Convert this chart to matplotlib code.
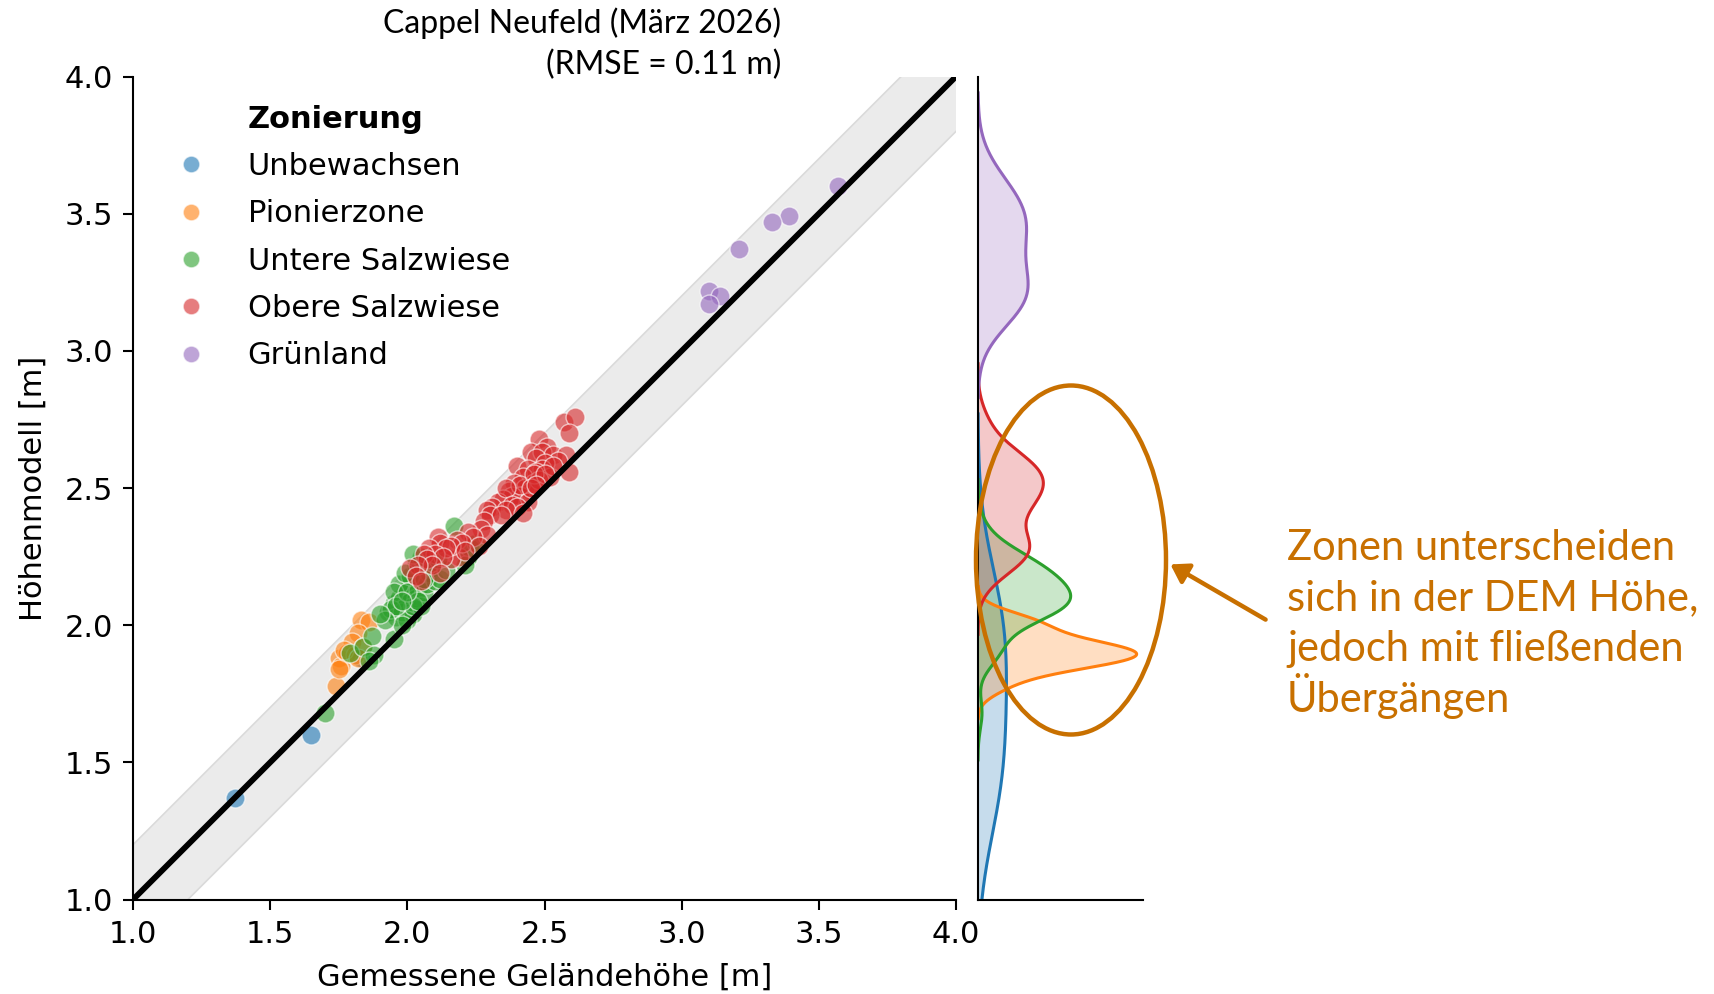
import numpy as np
import matplotlib
matplotlib.use("Agg")
import matplotlib.pyplot as plt
from matplotlib.patches import Ellipse, FancyArrowPatch
from matplotlib.lines import Line2D

# ---------------- data ----------------
zones = ["Unbewachsen", "Pionierzone", "Untere Salzwiese", "Obere Salzwiese", "Grünland"]
colors = ["#1f77b4", "#ff7f0e", "#2ca02c", "#d62728", "#9467bd"]

unbew_x = [1.37, 1.65, 1.83, 2.02]
unbew_y = [1.37, 1.60, 1.88, 2.07]

pionier_x = [1.83, 1.86, 1.82, 1.80, 1.75, 1.76, 1.74, 1.78, 1.81, 1.84, 1.75, 1.77, 1.82]
pionier_y = [2.02, 2.01, 1.97, 1.94, 1.88, 1.85, 1.78, 1.90, 1.89, 1.92, 1.84, 1.91, 1.88]

untere_x = [1.70, 1.79, 1.84, 1.87, 1.88, 1.86, 1.95, 1.93, 1.95, 1.97, 1.96, 1.98, 1.99,
            2.00, 2.01, 1.97, 1.95, 1.94, 2.02, 2.03, 2.04, 2.00, 1.98, 2.05, 2.06, 2.07,
            2.01, 2.03, 2.05, 2.08, 2.09, 2.10, 2.12, 2.14, 2.11, 2.17, 2.22, 2.23, 2.25,
            2.21, 1.99, 2.02, 1.96, 2.04, 2.00, 1.98, 2.06, 2.02, 1.92, 1.90]
untere_y = [1.68, 1.90, 1.92, 1.96, 1.89, 1.87, 1.95, 2.05, 2.08, 2.10, 2.03, 2.05, 2.12,
            2.08, 2.15, 2.15, 2.12, 2.06, 2.04, 2.10, 2.13, 2.02, 2.00, 2.07, 2.12, 2.15,
            2.18, 2.22, 2.25, 2.19, 2.21, 2.16, 2.17, 2.20, 2.24, 2.36, 2.25, 2.28, 2.30,
            2.22, 2.19, 2.07, 2.07, 2.09, 2.12, 2.09, 2.17, 2.26, 2.02, 2.04]

obere_x = [2.57, 2.61, 2.59, 2.48, 2.51, 2.45, 2.49, 2.53, 2.58, 2.47, 2.55,
           2.59, 2.50, 2.40, 2.44, 2.49, 2.47, 2.42, 2.52, 2.46, 2.39, 2.53, 2.43, 2.37,
           2.45, 2.41, 2.38, 2.35, 2.44, 2.33, 2.48, 2.41, 2.36, 2.46, 2.50,
           2.38, 2.40, 2.31, 2.36, 2.29, 2.42, 2.30, 2.34, 2.28, 2.45, 2.19, 2.47, 2.16,
           2.27, 2.22, 2.29, 2.24, 2.11, 2.18, 2.20, 2.12, 2.16, 2.26, 2.14, 2.08, 2.21,
           2.10, 2.06, 2.13, 2.07, 2.09, 2.04, 2.01,
           2.12, 2.03, 2.05]
obere_y = [2.74, 2.76, 2.70, 2.68, 2.65, 2.63, 2.63, 2.62, 2.62, 2.61, 2.60,
           2.56, 2.59, 2.58, 2.57, 2.57, 2.56, 2.54, 2.54, 2.52, 2.52, 2.58, 2.50, 2.49,
           2.49, 2.47, 2.47, 2.46, 2.45, 2.45, 2.53, 2.51, 2.50, 2.55, 2.55,
           2.44, 2.43, 2.43, 2.42, 2.42, 2.41, 2.40, 2.40, 2.38, 2.50, 2.25, 2.51, 2.24,
           2.35, 2.34, 2.33, 2.32, 2.32, 2.31, 2.30, 2.30, 2.29, 2.29, 2.28, 2.28, 2.27,
           2.26, 2.26, 2.25, 2.24, 2.22, 2.22, 2.21,
           2.19, 2.18, 2.16]

gruen_x = [3.57, 3.39, 3.33, 3.21, 3.10, 3.14, 3.10]
gruen_y = [3.60, 3.49, 3.47, 3.37, 3.22, 3.20, 3.17]

xs = [unbew_x, pionier_x, untere_x, obere_x, gruen_x]
ys = [unbew_y, pionier_y, untere_y, obere_y, gruen_y]

title_lines = ["Cappel Neufeld (März 2026)", "(RMSE = 0.11 m)"]
band_halfwidth = 0.2
ticks = [1.0, 1.5, 2.0, 2.5, 3.0, 3.5, 4.0]
annot_lines = ["Zonen unterscheiden", "sich in der DEM Höhe,",
               "jedoch mit fließenden", "Übergängen"]
accent = "#c87000"

# ---------------- figure ----------------
W, H = 1714, 994
fig = plt.figure(figsize=(W / 100, H / 100), dpi=100)
plt.rcParams["font.family"] = ["DejaVu Sans"]

def fx(px):
    return px / W

def fy(py):
    return 1 - py / H

ax = fig.add_axes([fx(133), fy(899.6), fx(956) - fx(133), fy(76.5) - fy(899.6)])
axm = fig.add_axes([fx(978), fy(899.6), fx(1143) - fx(978), fy(76.5) - fy(899.6)], sharey=ax)

# band and 1:1 line
line = np.array([0.5, 4.5])
ax.fill_between(line, line - band_halfwidth, line + band_halfwidth,
                facecolor="#ebebeb", edgecolor="#dadada", linewidth=1.2, zorder=0)
ax.plot(line, line, color="black", lw=4.2, zorder=3)

for x, y, c, z in zip(xs, ys, colors, zones):
    ax.scatter(x, y, s=185, color=c, alpha=0.6, edgecolor="white", linewidth=1.0,
               zorder=2, label=z)

ax.set_xlim(1.0, 4.0)
ax.set_ylim(1.0, 4.0)
ax.set_xticks(ticks)
ax.set_yticks(ticks)
ax.tick_params(labelsize=22, length=7.5, width=1.5, pad=7)
for s in ["top", "right"]:
    ax.spines[s].set_visible(False)
for s in ["left", "bottom"]:
    ax.spines[s].set_linewidth(1.5)
ax.set_xlabel("Gemessene Geländehöhe [m]", fontsize=22, labelpad=10)
ax.set_ylabel("Höhenmodell [m]", fontsize=22, labelpad=12)

handles = [Line2D([], [], marker="o", ls="", color=c, alpha=0.6, markersize=12,
                  markeredgecolor="white") for c in colors]
leg = ax.legend(handles, zones, title="Zonierung", loc="upper left",
                bbox_to_anchor=(0.0, 0.999), frameon=False, fontsize=22,
                title_fontproperties={"weight": "bold", "size": 22},
                handletextpad=0.85, labelspacing=0.6)

# marginal KDEs
curves = []
for y, c in zip(ys, colors):
    arr = np.asarray(y, dtype=float)
    n = arr.size
    bw = np.std(arr, ddof=1) * n ** (-1 / 5)
    g = np.linspace(arr.min() - 3 * bw, arr.max() + 3 * bw, 400)
    dens = np.exp(-0.5 * ((g[:, None] - arr[None, :]) / bw) ** 2).sum(axis=1)
    dens /= n * bw * np.sqrt(2 * np.pi)
    curves.append((g, dens, c))
maxd = max(d.max() for _, d, _ in curves)
for g, d, c in curves:
    axm.fill_betweenx(g, 0, d, color=c, alpha=0.25, lw=0)
    axm.plot(d, g, color=c, lw=2.2)
axm.set_xlim(0, maxd * 1.04)
axm.set_ylim(1.0, 4.0)
for s in ["top", "right"]:
    axm.spines[s].set_visible(False)
for s in ["left", "bottom"]:
    axm.spines[s].set_linewidth(1.5)
axm.tick_params(left=False, bottom=False, labelleft=False, labelbottom=False)

# title
fig.text(fx(781), fy(44), "\n".join(title_lines), ha="right", va="center",
         multialignment="right", fontsize=23, family="Lato", linespacing=1.45)

# overlay for annotation in pixel coords
ov = fig.add_axes([0, 0, 1, 1])
ov.set_xlim(0, W)
ov.set_ylim(H, 0)
ov.axis("off")
ov.patch.set_alpha(0)
ov.add_patch(Ellipse((1071, 560), 190, 349, fill=False, edgecolor=accent, lw=3.2))
ov.add_patch(FancyArrowPatch((1268, 621), (1168, 563),
                             arrowstyle="-|>,head_length=7,head_width=4.5",
                             color=accent, lw=3.2, mutation_scale=1.5))
for i, t in enumerate(annot_lines):
    ov.text(1287, 560 + 50.7 * i, t, ha="left", va="baseline", fontsize=30,
            family="Lato", color=accent)
fig.savefig("out.png", dpi=100)
